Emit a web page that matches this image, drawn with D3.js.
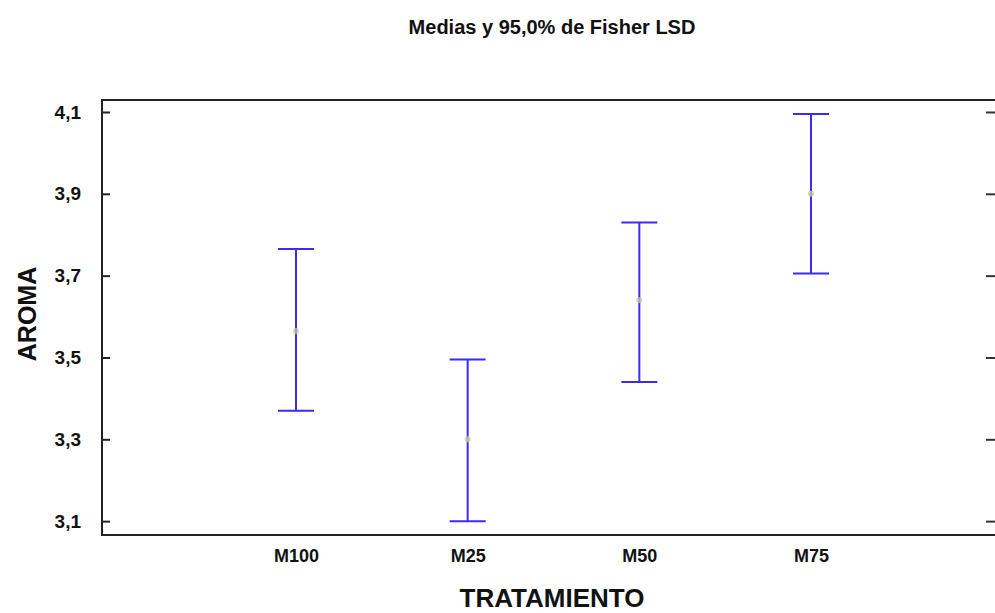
<!DOCTYPE html>
<html><head><meta charset="utf-8">
<script src="https://cdn.jsdelivr.net/npm/d3@7"></script>
<style>
body{margin:0;background:#fff;}
text{font-family:"Liberation Sans",Arial,sans-serif;font-weight:bold;fill:#111;}
</style></head>
<body><svg id="c" width="995" height="613"></svg>
<script>
const categories = ["M100","M25","M50","M75"];
const means = [3.565, 3.30, 3.64, 3.90];
const lower = [3.37, 3.10, 3.44, 3.705];
const upper = [3.765, 3.495, 3.83, 4.095];
const yTicks = [3.1, 3.3, 3.5, 3.7, 3.9, 4.1];
const title = "Medias y 95,0% de Fisher LSD";
const xTitle = "TRATAMIENTO";
const yTitle = "AROMA";

const svg = d3.select("#c");
const L = 102, R = 998, T = 100, B = 535;
const y = d3.scaleLinear().domain([3.0661, 4.1293]).range([B, T]);
const x = d3.scalePoint().domain(categories).range([296, 811]);
const fmt = d => d3.format(".1f")(d).replace(".", ",");

// frame
svg.append("rect").attr("x", L).attr("y", T).attr("width", R - L).attr("height", B - T)
  .attr("fill", "none").attr("stroke", "#222").attr("stroke-width", 2);

// left axis (ticks inward)
const gl = svg.append("g").attr("transform", `translate(${L},0)`)
  .call(d3.axisLeft(y).tickValues(yTicks).tickSize(-8).tickPadding(21).tickFormat(fmt));
gl.select(".domain").remove();
gl.selectAll(".tick line").attr("stroke", "#222").attr("stroke-width", 2);
gl.selectAll(".tick text").style("font-size", "19px").attr("fill", "#111");

// right ticks
const gr = svg.append("g").attr("transform", `translate(996,0)`)
  .call(d3.axisRight(y).tickValues(yTicks).tickSize(-10).tickFormat(""));
gr.select(".domain").remove();
gr.selectAll(".tick line").attr("stroke", "#333").attr("stroke-width", 2);

// x axis labels
const gx = svg.append("g").attr("transform", `translate(0,${B})`)
  .call(d3.axisBottom(x).tickSize(0).tickPadding(14));
gx.select(".domain").remove();
gx.selectAll(".tick text").style("font-size", "18px").attr("fill", "#111");

// error bars
const cap = 18;
const g = svg.append("g");
categories.forEach((c, i) => {
  const cx = x(c);
  g.append("line").attr("x1", cx).attr("x2", cx).attr("y1", y(upper[i])).attr("y2", y(lower[i]))
    .attr("stroke", "#3a2cf0").attr("stroke-width", 2);
  g.append("line").attr("x1", cx - cap).attr("x2", cx + cap).attr("y1", y(upper[i])).attr("y2", y(upper[i]))
    .attr("stroke", "#3a2cf0").attr("stroke-width", 2);
  g.append("line").attr("x1", cx - cap).attr("x2", cx + cap).attr("y1", y(lower[i])).attr("y2", y(lower[i]))
    .attr("stroke", "#3a2cf0").attr("stroke-width", 2);
  g.append("circle").attr("cx", cx).attr("cy", y(means[i])).attr("r", 3)
    .attr("fill", "#c9c99a").attr("opacity", 0.8);
});

// titles
svg.append("text").attr("x", 552).attr("y", 34).attr("text-anchor", "middle")
  .style("font-size", "20px").text(title);
svg.append("text").attr("x", 552).attr("y", 607).attr("text-anchor", "middle")
  .style("font-size", "26px").text(xTitle);
svg.append("text").attr("transform", "translate(36,314) rotate(-90)").attr("text-anchor", "middle")
  .style("font-size", "25px").text(yTitle);
</script></body></html>
